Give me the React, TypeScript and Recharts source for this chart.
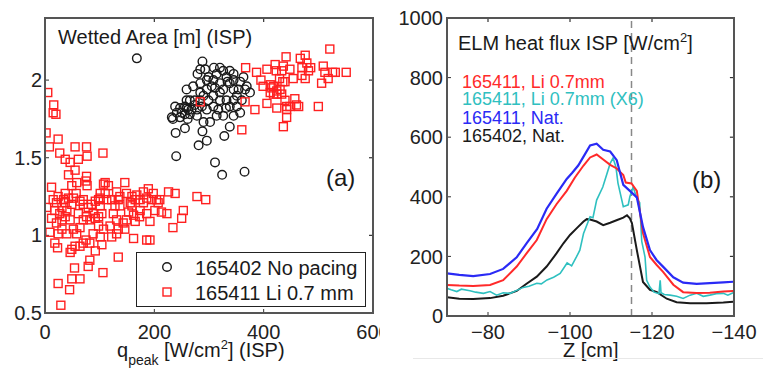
import React from 'react';
import { ScatterChart, Scatter, LineChart, Line, XAxis, YAxis, ReferenceLine } from 'recharts';

const FONT = '"Liberation Sans", Arial, Helvetica, sans-serif';
const AX = '#333';

// panel (a): wetted area vs q_peak
const xTicksA = [0, 200, 400, 600];
const yTicksA = [0.5, 1, 1.5, 2];
const xDomA: [number, number] = [0, 600];
const yDomA: [number, number] = [0.5, 2.4];

const noPacing: [number, number][] = [
  [168, 2.14], [288, 2.12], [284, 2.07], [279, 2.04], [271, 1.96], [274, 1.87], [259, 1.94], [265, 1.87],
  [256, 1.83], [247, 1.82], [238, 1.83], [232, 1.76], [241, 1.79], [234, 1.75], [247, 1.76], [261, 1.75],
  [239, 1.66], [256, 1.69], [281, 1.58], [288, 1.67], [296, 1.61], [311, 1.47], [324, 1.39], [365, 1.41],
  [240, 1.51], [328, 1.64], [338, 1.7], [345, 1.77], [357, 1.79], [351, 1.9], [369, 1.96], [375, 1.92],
  [366, 1.94], [345, 1.94], [338, 1.98], [332, 2.02], [326, 2.06], [320, 2.08], [338, 2.06], [345, 2.04],
  [334, 1.99], [314, 2.04], [308, 2.0], [296, 2.0], [305, 1.96], [296, 1.94], [290, 1.9], [284, 1.92],
  [278, 1.81], [287, 1.83], [296, 1.81], [308, 1.83], [317, 1.81], [326, 1.77], [338, 1.83], [345, 1.87],
  [320, 1.92], [308, 1.9], [320, 1.87], [332, 1.87], [314, 1.77], [302, 1.73], [290, 1.73], [278, 1.77],
  [268, 1.81], [262, 1.81], [284, 1.98], [293, 2.07], [320, 1.98], [326, 1.94], [357, 1.99], [363, 2.02],
  [360, 1.87], [351, 1.83], [331, 1.82], [311, 1.95], [259, 1.82], [265, 1.78], [256, 1.78], [250, 1.79],
  [274, 1.84], [299, 1.87], [309, 2.08], [299, 2.02], [259, 1.87], [284, 1.87], [345, 2.0], [354, 1.94],
];

const liPacing: [number, number][] = [
  [5, 1.92], [16, 1.84], [15, 1.79], [20, 1.78], [2, 1.66], [8, 1.57], [24, 1.62], [12, 1.31],
  [3, 1.18], [18, 1.16], [12, 1.11], [21, 1.08], [9, 1.02], [24, 1.01], [18, 0.95], [23, 0.92],
  [24, 0.69], [29, 0.55], [45, 0.65], [49, 0.72], [54, 0.79], [64, 0.72], [46, 0.89], [49, 0.91],
  [64, 0.93], [70, 0.95], [75, 0.97], [79, 0.8], [82, 0.84], [104, 0.94], [92, 1.22], [98, 1.12],
  [76, 1.57], [55, 1.57], [77, 1.51], [61, 1.49], [27, 1.53], [37, 1.49], [46, 1.47], [55, 1.42],
  [43, 1.39], [58, 1.34], [49, 1.32], [57, 1.27], [43, 1.24], [34, 1.23], [37, 1.21], [31, 1.18],
  [40, 1.16], [49, 1.2], [64, 1.22], [70, 1.2], [76, 1.38], [75, 1.35], [77, 1.32], [70, 1.23],
  [79, 1.18], [85, 1.2], [88, 1.14], [92, 1.11], [101, 1.19], [98, 1.23], [101, 1.27], [110, 1.27],
  [107, 1.33], [110, 1.34], [116, 1.32], [106, 1.53], [128, 1.19], [125, 1.14], [131, 1.1], [119, 1.06],
  [131, 1.01], [122, 0.99], [107, 1.04], [101, 0.99], [88, 1.01], [98, 1.06], [82, 1.1], [70, 1.1],
  [64, 1.05], [58, 1.01], [52, 1.04], [46, 1.1], [37, 1.12], [27, 1.14], [31, 1.04], [40, 1.01],
  [55, 0.93], [31, 1.1], [21, 1.21], [15, 1.23], [24, 1.25], [37, 1.27], [52, 1.24], [61, 1.14],
  [76, 1.12], [134, 1.23], [137, 1.19], [146, 1.34], [149, 1.27], [156, 1.21], [149, 1.1], [143, 1.08],
  [134, 1.04], [146, 1.04], [162, 0.98], [165, 1.09], [162, 1.13], [159, 1.19], [159, 1.25], [168, 1.26],
  [174, 1.23], [180, 1.21], [186, 1.14], [186, 0.97], [192, 0.97], [192, 1.09], [180, 1.28], [189, 1.3],
  [198, 1.27], [204, 1.23], [207, 1.21], [201, 1.16], [213, 1.15], [223, 1.14], [210, 1.23], [195, 1.23],
  [186, 1.24], [174, 1.16], [173, 1.12], [165, 1.23], [153, 1.15], [137, 1.25], [131, 1.28], [122, 1.23],
  [113, 1.23], [104, 1.14], [101, 1.24], [134, 0.86], [106, 0.76], [92, 0.9], [82, 0.95], [226, 1.28],
  [238, 1.27], [234, 1.05], [250, 1.11], [253, 1.16], [278, 1.25], [294, 1.23], [284, 1.86],
  [360, 1.68], [366, 1.86], [367, 2.08], [387, 2.05], [406, 2.07], [395, 2.0], [399, 1.96], [384, 1.81],
  [406, 1.85], [412, 1.97], [418, 1.96], [421, 2.1], [423, 2.06], [429, 2.01], [430, 1.94], [433, 1.91],
  [435, 1.99], [424, 1.93], [418, 1.91], [424, 1.82], [439, 1.87], [442, 1.76], [436, 1.7], [439, 1.99],
  [433, 2.06], [436, 2.09], [441, 2.15], [448, 2.07], [454, 2.01], [457, 1.88], [460, 1.84], [448, 1.83],
  [442, 1.83], [464, 1.83], [470, 2.08], [467, 2.14], [470, 2.03], [476, 2.16], [479, 2.11], [476, 2.01],
  [482, 2.06], [486, 2.08], [500, 1.83], [506, 1.98], [509, 2.09], [512, 2.05], [521, 2.2], [518, 2.01],
  [526, 2.05], [531, 2.05], [551, 2.05], [442, 1.81], [424, 1.91], [412, 1.92], [415, 1.95],
];

// panel (b): ELM heat flux profiles
const xTicksB = [-140, -120, -100, -80];
const yTicksB = [0, 200, 400, 600, 800, 1000];
const xDomB: [number, number] = [-140, -70];
const yDomB: [number, number] = [0, 1000];
const strikeZ = -115;

const li07: [number, number][] = [
  [-70, 104], [-73, 102], [-76.4, 101], [-80.5, 104], [-83.7, 120], [-87, 166], [-89.4, 210], [-91.9, 255],
  [-94.3, 325], [-96.7, 375], [-99.2, 420], [-101.2, 465], [-103.3, 505], [-104.9, 532], [-106.5, 542],
  [-108.1, 525], [-109.8, 507], [-111.4, 495], [-113, 473], [-113.6, 448], [-115, 445], [-116.3, 420],
  [-117.8, 278], [-119.5, 198], [-121.1, 172], [-122.7, 148], [-125.2, 105], [-127.6, 80], [-130.9, 77],
  [-134.1, 78], [-137.4, 82], [-139.8, 84],
];

const li07x6: [number, number][] = [
  [-70, 93], [-71, 88], [-72.4, 82], [-73.5, 90], [-75.6, 85], [-77, 80], [-78.9, 76], [-80.5, 82],
  [-82.1, 70], [-83.7, 78], [-85.4, 76], [-87, 86], [-88.6, 96], [-90, 100], [-91.9, 110], [-93, 108],
  [-94.4, 121], [-96, 130], [-97.6, 143], [-99.3, 178], [-100.4, 168], [-101.6, 199], [-102.4, 221],
  [-103.3, 277], [-104.9, 333], [-105.6, 330], [-106.5, 389], [-108, 433], [-109.8, 512], [-110.5, 530],
  [-111.2, 500], [-111.7, 446], [-113, 367], [-114.2, 373], [-114.6, 400], [-115.4, 433], [-116.3, 395],
  [-117, 380], [-117.5, 250], [-118.3, 198], [-118.7, 120], [-119.5, 97], [-120.5, 80], [-121.7, 75],
  [-122, 120], [-122.2, 78], [-123, 72], [-124.4, 70], [-126, 66], [-127.6, 59], [-129.3, 70],
  [-130.9, 76], [-132.5, 66], [-134.1, 70], [-135.7, 75], [-137.4, 76], [-138.5, 70], [-139.8, 78],
];

const nat411: [number, number][] = [
  [-70, 143], [-73, 138], [-76.4, 134], [-80.5, 141], [-83.7, 158], [-87, 197], [-89.4, 244], [-92, 292],
  [-94.3, 360], [-96.7, 410], [-99.2, 460], [-100.5, 480], [-102, 505], [-103.3, 535], [-104.9, 572],
  [-106.5, 578], [-108.1, 558], [-109.8, 552], [-111.4, 523], [-113, 440], [-114.6, 420], [-116.3, 398],
  [-117.8, 299], [-119.5, 221], [-121.1, 188], [-122.8, 164], [-125.2, 130], [-127.6, 112], [-130.9, 108],
  [-134.1, 110], [-137.4, 113], [-139.8, 115],
];

const nat402: [number, number][] = [
  [-70, 63], [-73, 58], [-76.4, 57], [-80.5, 60], [-83.7, 68], [-87, 84], [-89.4, 108], [-91.9, 132],
  [-94.3, 166], [-96.7, 210], [-98.4, 244], [-100, 272], [-101.6, 294], [-103.3, 317], [-104.1, 325],
  [-104.9, 324], [-106.5, 317], [-108.1, 305], [-109.8, 313], [-111.5, 322], [-113, 330], [-113.9, 338],
  [-114.6, 328], [-115.1, 312], [-116.3, 221], [-117.8, 114], [-119.5, 88], [-121.2, 80], [-123.6, 58],
  [-126, 46], [-129.3, 43], [-133.3, 43], [-137.4, 45], [-139.8, 48],
];

const toXY = (a: [number, number][]) => a.map(([x, y]) => ({ x, y }));
const toZQ = (a: [number, number][]) => a.map(([z, q]) => ({ z, q }));

const OpenCircle = (p: any) => (
  <circle cx={p.cx} cy={p.cy} r={4.3} fill="none" stroke="#1a1a1a" strokeWidth={1.4} />
);
const OpenSquare = (p: any) => (
  <rect x={p.cx - 4} y={p.cy - 4} width={8} height={8} fill="none" stroke="#ff2020" strokeWidth={1.4} />
);

const tickStyle = { fill: '#222', fontSize: 20, fontFamily: FONT };
const minus = (v: number) => (v < 0 ? '\u2212' + Math.abs(v) : String(v));

const txt = (extra: React.CSSProperties): React.CSSProperties => ({
  position: 'absolute', fontFamily: FONT, lineHeight: 1, whiteSpace: 'nowrap', color: '#1a1a1a', ...extra,
});

// inward tick marks on the top and right sides (tick length in data units)
function boxTicks(xDom: [number, number], yDom: [number, number], xTicks: number[], yTicks: number[], dx: number, dy: number, xRight: number) {
  const yTop = yDom[1];
  const out: React.ReactElement[] = [];
  xTicks.forEach((t) => {
    if (t > xDom[0] && t < xDom[1]) {
      out.push(<ReferenceLine key={'tx' + t} segment={[{ x: t, y: yTop - 0.001 * dy }, { x: t, y: yTop - dy }]} stroke={AX} strokeWidth={1.2} ifOverflow="visible" />);
    }
  });
  yTicks.forEach((t) => {
    if (t > yDom[0] && t < yDom[1]) {
      out.push(<ReferenceLine key={'ty' + t} segment={[{ x: xRight - 0.001 * dx, y: t }, { x: xRight - dx, y: t }]} stroke={AX} strokeWidth={1.2} ifOverflow="visible" />);
    }
  });
  return out;
}

// plot box outline, 2px so it reads like the blurred frame of the original
const frame = (left: number, top: number, width: number, height: number): React.CSSProperties => ({
  position: 'absolute', left: left - 1, top: top - 1, width: width + 1, height: height + 1,
  boxSizing: 'border-box', border: '2px solid #555', pointerEvents: 'none',
});

export default function App() {
  return (
    <div style={{ position: 'fixed', left: 0, top: 0, width: 763, height: 373, background: '#fff', overflow: 'hidden' }}>
      {/* (a) */}
      <div style={{ position: 'absolute', left: 0, top: 0 }}>
        <ScatterChart width={390} height={373} margin={{ top: 18, right: 17, bottom: 30, left: 0 }}>
          <XAxis type="number" dataKey="x" domain={xDomA} ticks={xTicksA} height={30} tickSize={-4} tickMargin={16}
            axisLine={{ stroke: AX }} tickLine={{ stroke: AX }} tick={tickStyle} allowDataOverflow />
          <YAxis type="number" dataKey="y" domain={yDomA} ticks={yTicksA} width={45} tickSize={-4} tickMargin={7}
            axisLine={{ stroke: AX }} tickLine={{ stroke: AX }} tick={tickStyle} allowDataOverflow />
          {boxTicks(xDomA, yDomA, xTicksA, yTicksA, 7.3, 0.026, xDomA[1])}
          <Scatter data={toXY(noPacing)} shape={OpenCircle} isAnimationActive={false} />
          <Scatter data={toXY(liPacing)} shape={OpenSquare} isAnimationActive={false} />
        </ScatterChart>
        <div style={frame(45, 18, 329, 296)} />
        <div style={txt({ left: 58, top: 27, fontSize: 20 })}>Wetted Area [m] (ISP)</div>
        <div style={txt({ left: 326, top: 166, fontSize: 24 })}>(a)</div>
        <div style={{ position: 'absolute', left: 136, top: 252, width: 230, height: 55, boxSizing: 'border-box', border: '1px solid #222', background: '#fff' }}>
          <svg width={228} height={53} style={{ position: 'absolute', left: 0, top: 0 }}>
            <circle cx={30} cy={14} r={4.3} fill="none" stroke="#1a1a1a" strokeWidth={1.4} />
            <rect x={26} y={35} width={8} height={8} fill="none" stroke="#ff2020" strokeWidth={1.4} />
          </svg>
          <div style={txt({ left: 58, top: 5, fontSize: 20 })}>165402 No pacing</div>
          <div style={txt({ left: 58, top: 30, fontSize: 20 })}>165411 Li 0.7 mm</div>
        </div>
        <div style={txt({ left: 117, top: 344, fontSize: 20, lineHeight: '13px' })}>
          q<span style={{ fontSize: 14, position: 'relative', top: 8 }}>peak</span> [W/cm
          <span style={{ fontSize: 13, position: 'relative', top: -8 }}>2</span>] (ISP)
        </div>
      </div>

      {/* (b) */}
      <div style={{ position: 'absolute', left: 380, top: 0, width: 383, height: 373, background: '#fff' }}>
        <LineChart width={383} height={373} margin={{ top: 18, right: 29, bottom: 27, left: 0 }}>
          <XAxis type="number" dataKey="z" domain={xDomB} reversed ticks={xTicksB} height={30} tickSize={-4}
            tickMargin={13} tickFormatter={minus} axisLine={{ stroke: AX }} tickLine={{ stroke: AX }} tick={tickStyle}
            allowDataOverflow />
          <YAxis type="number" dataKey="q" domain={yDomB} ticks={yTicksB} width={67} tickSize={-4} tickMargin={8}
            axisLine={{ stroke: AX }} tickLine={{ stroke: AX }} tick={tickStyle} allowDataOverflow />
          {boxTicks(xDomB, yDomB, xTicksB, yTicksB, -1, 13.4, xDomB[0])}
          <ReferenceLine x={strikeZ} stroke="#888" strokeWidth={1.5} strokeDasharray="7 5" />
          <Line data={toZQ(nat402)} dataKey="q" type="linear" stroke="#1a1a1a" strokeWidth={2} dot={false} isAnimationActive={false} />
          <Line data={toZQ(li07x6)} dataKey="q" type="linear" stroke="#2fc0c0" strokeWidth={1.6} dot={false} isAnimationActive={false} />
          <Line data={toZQ(li07)} dataKey="q" type="linear" stroke="#ff2a2a" strokeWidth={2} dot={false} isAnimationActive={false} />
          <Line data={toZQ(nat411)} dataKey="q" type="linear" stroke="#2a2af5" strokeWidth={2.2} dot={false} isAnimationActive={false} />
        </LineChart>
        <div style={frame(67, 18, 288, 299)} />
        <div style={txt({ left: 78, top: 33, fontSize: 20 })}>
          ELM heat flux ISP [W/cm<span style={{ fontSize: 13, position: 'relative', top: -8 }}>2</span>]
        </div>
        <div style={txt({ left: 82, top: 75, fontSize: 18, lineHeight: '14px', color: '#ff2a2a' })}>165411, Li 0.7mm</div>
        <div style={txt({ left: 82, top: 91.5, fontSize: 18, lineHeight: '14px', color: '#2fc0c0' })}>165411, Li 0.7mm (X6)</div>
        <div style={txt({ left: 82, top: 111, fontSize: 18, lineHeight: '14px', color: '#2a2af5' })}>165411, Nat.</div>
        <div style={txt({ left: 82, top: 129, fontSize: 18, lineHeight: '14px', color: '#1a1a1a' })}>165402, Nat.</div>
        <div style={txt({ left: 312, top: 168, fontSize: 24 })}>(b)</div>
        <div style={txt({ left: 183, top: 344, fontSize: 20, lineHeight: '13px' })}>Z [cm]</div>
        <div style={{ position: 'absolute', left: 33, top: 358, width: 350, height: 1, background: '#e8e8e8' }} />
      </div>
    </div>
  );
}
